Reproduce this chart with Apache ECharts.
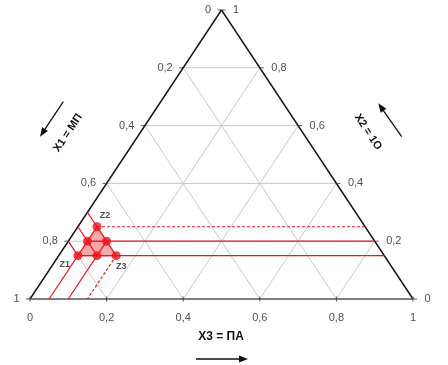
<!DOCTYPE html>
<html><head><meta charset="utf-8">
<script src="https://cdn.jsdelivr.net/npm/echarts@6/dist/echarts.min.js"></script>
<style>html,body{margin:0;padding:0;background:#fff}#c{width:448px;height:365px}</style>
</head><body><div id="c"></div>
<script>
// ---- data ----
const tickValues = [0, 0.2, 0.4, 0.6, 0.8, 1];
const tickLabels = ['0', '0,2', '0,4', '0,6', '0,8', '1'];
const gridValues = [0.2, 0.4, 0.6, 0.8];
// design points (X1, X2, X3)
const pointX1 = [0.8, 0.7, 0.7, 0.75, 0.75, 0.7];
const pointX2 = [0.15, 0.25, 0.15, 0.2, 0.15, 0.2];
const pointX3 = [0.05, 0.05, 0.15, 0.05, 0.1, 0.1];
const pointNames = ['Z1', 'Z2', 'Z3', '', '', ''];
const simplexVertices = [0, 1, 2];
// guide lines: [point index, component kept constant]
const solidGuides = [[3, 'X2'], [0, 'X2'], [0, 'X3'], [4, 'X3'], [1, 'X1'], [3, 'X1'], [0, 'X1']];
const dashedGuides = [[1, 'X2'], [2, 'X3']];
const innerEdges = [[3, 4], [4, 5]];
const axisTitles = ['X1 = МП', 'X2 = 1O', 'X3 = ПА'];

// ---- ternary -> cartesian helpers ----
function tern(x1, x2, x3) { return [x3 + x2 / 2, x2]; }
function pt(i) { return tern(pointX1[i], pointX2[i], pointX3[i]); }
function guideEnd(i, keep) {
  const a = pointX1[i], b = pointX2[i], c = pointX3[i];
  if (keep === 'X2') return tern(0, b, 1 - b);      // to right edge
  if (keep === 'X3') return tern(1 - c, 0, c);      // to bottom edge
  return tern(a, 1 - a, 0);                          // to left edge
}

const gridSegs = [];
gridValues.forEach(v => {
  gridSegs.push(tern(1 - v, v, 0).concat(tern(0, v, 1 - v)));
  gridSegs.push(tern(1 - v, 0, v).concat(tern(0, 1 - v, v)));
  gridSegs.push(tern(v, 1 - v, 0).concat(tern(v, 0, 1 - v)));
});
const A = tern(1, 0, 0), B = tern(0, 1, 0), C = tern(0, 0, 1);
const solidSegs = solidGuides.map(([i, k]) => pt(i).concat(guideEnd(i, k)))
  .concat(innerEdges.map(([i, j]) => pt(i).concat(pt(j))));
const dashedSegs = dashedGuides.map(([i, k]) => pt(i).concat(guideEnd(i, k)));

const FONT = 'Liberation Sans';
const segSeries = (segs, style, z) => ({
  type: 'custom', coordinateSystem: 'cartesian2d', silent: true, z: z,
  data: segs,
  encode: { x: [0, 2], y: [1, 3] },
  renderItem: (params, api) => {
    const p1 = api.coord([api.value(0), api.value(1)]);
    const p2 = api.coord([api.value(2), api.value(3)]);
    return { type: 'line', shape: { x1: p1[0], y1: p1[1], x2: p2[0], y2: p2[1] }, style: style };
  }
});
const labelSeries = (data, pos, dist) => ({
  type: 'scatter', symbolSize: 1, itemStyle: { color: 'rgba(0,0,0,0)' }, silent: true,
  data: data,
  label: { show: true, position: pos, distance: dist, formatter: p => p.name,
    color: '#222', fontSize: 11, fontFamily: FONT }
});

const chart = echarts.init(document.getElementById('c'), null, { renderer: 'canvas' });
chart.setOption({
  animation: false,
  backgroundColor: '#fff',
  grid: { left: 30, top: 10, width: 383, height: 289 },
  xAxis: { type: 'value', min: 0, max: 1, show: false },
  yAxis: { type: 'value', min: 0, max: 1, show: false },
  series: [
    segSeries(gridSegs, { stroke: '#c8c8c8', lineWidth: 1 }, 1),
    segSeries([A.concat(B), B.concat(C)], { stroke: '#111', lineWidth: 1.4 }, 3),
    segSeries([A.concat(C)], { stroke: '#555', lineWidth: 1.4 }, 3),
    // tick marks
    { type: 'scatter', symbol: 'rect', symbolSize: [1, 5], silent: true, z: 4,
      itemStyle: { color: '#333' }, data: tickValues.map(t => tern(1 - t, 0, t)) },
    { type: 'scatter', symbol: 'rect', symbolSize: [4, 1], symbolOffset: [-2, 0], silent: true, z: 4,
      itemStyle: { color: '#333' }, data: tickValues.map(t => tern(t, 1 - t, 0)) },
    { type: 'scatter', symbol: 'rect', symbolSize: [4, 1], symbolOffset: [2, 0], silent: true, z: 4,
      itemStyle: { color: '#333' }, data: tickValues.map(t => tern(0, t, 1 - t)) },
    // tick labels
    labelSeries(tickValues.map((t, i) => ({ name: tickLabels[i], value: tern(t, 1 - t, 0) })), 'left', 10),
    labelSeries(tickValues.map((t, i) => ({ name: tickLabels[i], value: tern(0, t, 1 - t) })), 'right', 11),
    labelSeries(tickValues.map((t, i) => ({ name: tickLabels[i], value: tern(1 - t, 0, t) })), 'bottom', 13),
    // simplex region
    { type: 'custom', coordinateSystem: 'cartesian2d', silent: true, z: 5,
      data: [[0, 0]],
      renderItem: (params, api) => ({
        type: 'polygon',
        shape: { points: simplexVertices.map(i => api.coord(pt(i))) },
        style: { fill: 'rgba(238,80,84,0.5)', stroke: '#e8161f', lineWidth: 1.3 }
      }) },
    // guides
    segSeries(solidSegs, { stroke: '#e8161f', lineWidth: 1.2 }, 6),
    segSeries(dashedSegs, { stroke: '#e8161f', lineWidth: 1.2, lineDash: [3, 2] }, 6),
    // design points
    { type: 'scatter', symbol: 'circle', symbolSize: 9, silent: true, z: 8,
      itemStyle: { color: '#ec101a' },
      data: pointX1.map((v, i) => ({ name: pointNames[i], value: pt(i) })),
      label: { show: true, position: 'inside', formatter: p => p.name,
        fontSize: 9, fontWeight: 'bold', color: '#222', fontFamily: FONT },
      labelLayout: p => {
        const off = [[-13, 9], [8, -11], [5, 11]][p.dataIndex];
        if (!off) return {};
        return { dx: off[0], dy: off[1] };
      } }
  ],
  graphic: [
    { type: 'text', x: 68, y: 133, rotation: 0.985, z: 10,
      style: { text: axisTitles[0], fontSize: 11, fontWeight: 'bold', fontFamily: FONT,
        fill: '#111', align: 'center', verticalAlign: 'middle' } },
    { type: 'text', x: 368, y: 132, rotation: -0.985, z: 10,
      style: { text: axisTitles[1], fontSize: 11, fontWeight: 'bold', fontFamily: FONT,
        fill: '#111', align: 'center', verticalAlign: 'middle' } },
    { type: 'text', x: 221, y: 337, z: 10,
      style: { text: axisTitles[2], fontSize: 12, fontWeight: 'bold', fontFamily: FONT,
        fill: '#111', align: 'center', verticalAlign: 'middle' } },
    // arrows
    { type: 'line', z: 10, shape: { x1: 63.3, y1: 101.7, x2: 44, y2: 130.7 }, style: { stroke: '#111', lineWidth: 1.3 } },
    { type: 'polygon', z: 10, shape: { points: [[40, 136.7], [47.9, 131.1], [42.1, 127.3]] }, style: { fill: '#111' } },
    { type: 'line', z: 10, shape: { x1: 401.7, y1: 136.7, x2: 382.5, y2: 109.3 }, style: { stroke: '#111', lineWidth: 1.3 } },
    { type: 'polygon', z: 10, shape: { points: [[378.3, 103.3], [386.4, 108.7], [380.6, 112.7]] }, style: { fill: '#111' } },
    { type: 'line', z: 10, shape: { x1: 196, y1: 359, x2: 241, y2: 359 }, style: { stroke: '#111', lineWidth: 1.3 } },
    { type: 'polygon', z: 10, shape: { points: [[248, 359], [239, 355.5], [239, 362.5]] }, style: { fill: '#111' } }
  ]
});
</script></body></html>
